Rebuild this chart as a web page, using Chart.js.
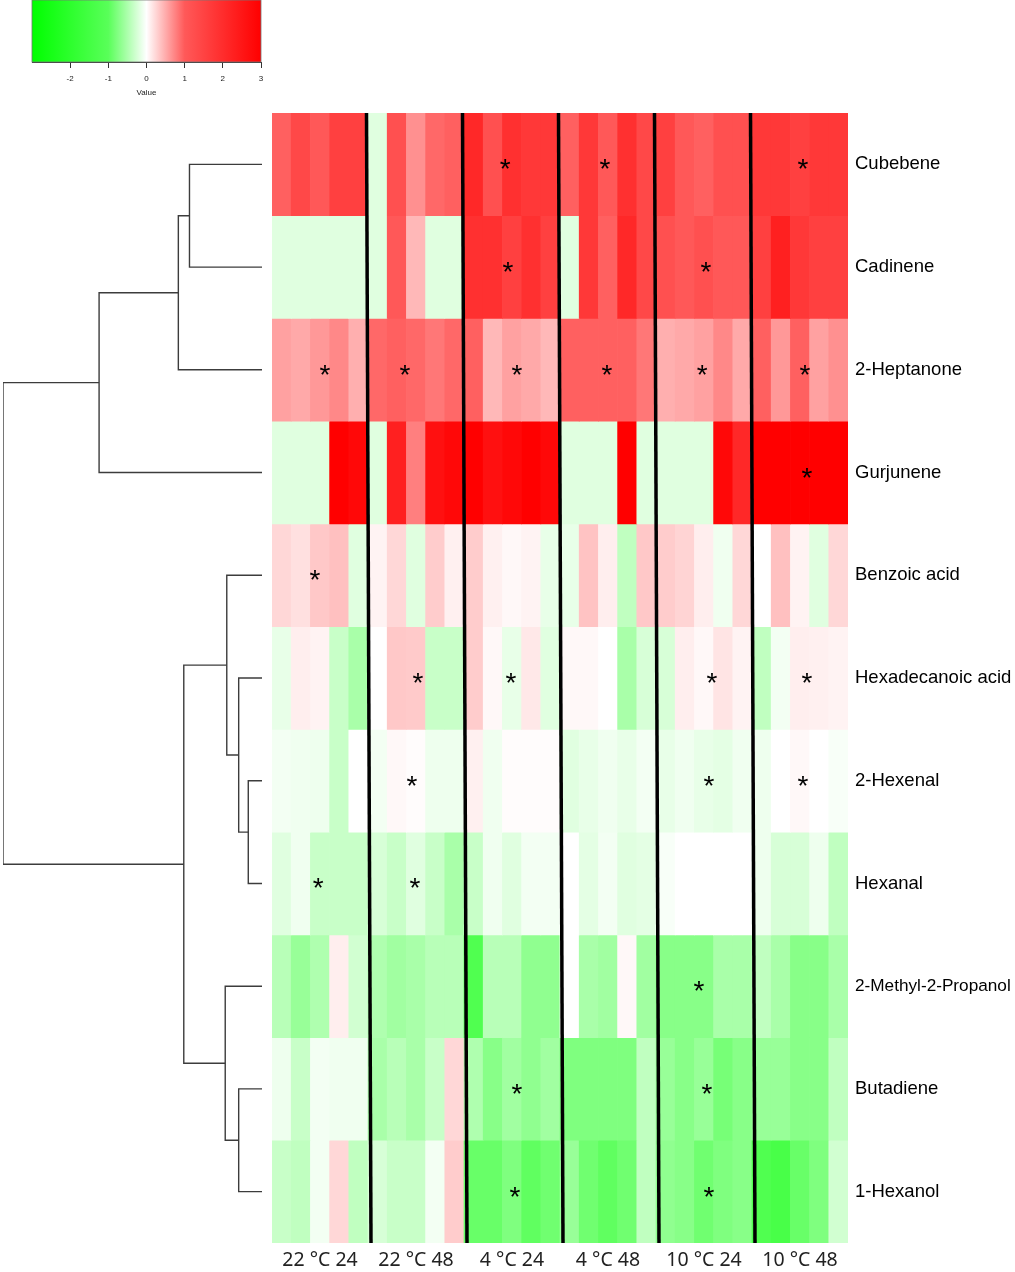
<!DOCTYPE html>
<html>
<head>
<meta charset="utf-8">
<script src="https://cdn.jsdelivr.net/npm/chart.js@4.4.1/dist/chart.umd.min.js"></script>
<style>
  body { margin: 0; background: #fff; }
  .box { position: absolute; left: 0; top: 0; }
</style>
</head>
<body>
<div class="box" style="width:1015px;height:1272px"><canvas id="heat"></canvas></div>
<div class="box" style="width:272px;height:1272px"><canvas id="tree"></canvas></div>
<div class="box" style="width:290px;height:100px"><canvas id="key"></canvas></div>
<script>
const rowNames = ['Cubebene', 'Cadinene', '2-Heptanone', 'Gurjunene', 'Benzoic acid', 'Hexadecanoic acid',
                  '2-Hexenal', 'Hexanal', '2-Methyl-2-Propanol', 'Butadiene', '1-Hexanol'];
const groupLabels = ['22 °C 24', '22 °C 48', '4 °C 24', '4 °C 48', '10 °C 24', '10 °C 48'];
const replicates = 5;

// one value per replicate column, 5 columns per group
const cubebene         = [0.96, 1.39, 1.03, 1.57, 1.57,  -0.19, 1.21, 0.67, 0.91, 0.96,  2.10, 1.21, 1.93, 1.74, 1.74,  0.96, 1.74, 1.03, 1.93, 1.39,  1.57, 1.03, 0.96, 1.21, 1.21,  1.74, 1.74, 1.57, 1.74, 1.74];
const cadinene         = [-0.19, -0.19, -0.19, -0.19, -0.19,  -0.19, 1.03, 0.43, -0.19, -0.19,  1.93, 1.93, 1.57, 1.93, 1.57,  -0.19, 1.74, 0.96, 2.10, 1.39,  1.21, 1.03, 1.21, 1.03, 1.03,  1.57, 2.29, 1.74, 1.57, 1.57];
const heptanone        = [0.57, 0.52, 0.62, 0.72, 0.48,  0.91, 0.96, 0.91, 0.82, 0.91,  0.96, 0.43, 0.57, 0.52, 0.43,  0.96, 0.96, 0.96, 0.96, 0.82,  0.48, 0.52, 0.57, 0.72, 0.52,  0.96, 0.62, 0.96, 0.57, 0.67];
const gurjunene        = [-0.19, -0.19, -0.19, 3.00, 2.82,  -0.19, 2.29, 0.77, 2.64, 2.82,  3.00, 2.64, 2.82, 3.00, 2.82,  -0.19, -0.19, -0.19, 3.00, -0.19,  -0.19, -0.19, -0.19, 2.82, 2.10,  3.00, 3.00, 3.00, 3.00, 3.00];
const benzoicAcid      = [0.24, 0.19, 0.33, 0.38, -0.19,  0.07, 0.24, -0.19, 0.31, 0.09,  0.31, 0.09, 0.04, 0.07, -0.14,  -0.14, 0.36, 0.10, -0.38, 0.33,  0.31, 0.26, 0.10, -0.09, 0.24,  0.00, 0.38, 0.07, -0.19, 0.24];
const hexadecanoicAcid = [-0.14, 0.10, 0.07, -0.33, -0.52,  0.00, 0.33, 0.32, -0.33, -0.33,  0.31, 0.04, -0.14, 0.14, -0.19,  0.04, 0.04, 0.00, -0.52, -0.24,  -0.24, 0.10, 0.04, 0.16, 0.07,  -0.38, -0.07, 0.10, 0.09, 0.07];
const hexenal          = [-0.07, -0.09, -0.10, -0.33, 0.00,  -0.07, 0.04, 0.02, -0.10, -0.10,  0.09, -0.09, 0.02, 0.02, 0.02,  -0.19, -0.14, -0.09, -0.14, -0.07,  -0.14, -0.09, -0.14, -0.16, -0.09,  -0.10, 0.00, 0.04, 0.00, -0.04];
const hexanal          = [-0.19, -0.09, -0.33, -0.33, -0.33,  -0.24, -0.33, -0.19, -0.33, -0.52,  -0.33, -0.09, -0.19, -0.07, -0.07,  0.00, -0.16, -0.07, -0.19, -0.16,  -0.04, 0.00, 0.00, 0.00, 0.00,  -0.10, -0.24, -0.24, -0.10, -0.38];
const methylPropanol   = [-0.43, -0.62, -0.48, 0.10, -0.28,  -0.48, -0.57, -0.52, -0.43, -0.43,  -1.21, -0.43, -0.43, -0.67, -0.67,  0.00, -0.52, -0.57, 0.04, -0.57,  -0.72, -0.72, -0.72, -0.52, -0.52,  -0.38, -0.52, -0.72, -0.72, -0.52];
const butadiene        = [-0.10, -0.33, -0.07, -0.09, -0.09,  -0.52, -0.43, -0.52, -0.33, 0.24,  -0.48, -0.72, -0.57, -0.67, -0.57,  -0.77, -0.77, -0.77, -0.77, -0.38,  -0.62, -0.72, -0.62, -0.82, -0.72,  -0.62, -0.62, -0.72, -0.72, -0.38];
const hexanol          = [-0.33, -0.38, -0.07, 0.24, -0.38,  -0.24, -0.33, -0.33, -0.07, 0.31,  -0.91, -0.91, -0.77, -0.96, -0.86,  -0.62, -0.86, -0.96, -0.86, -0.38,  -0.67, -0.72, -0.86, -0.77, -0.72,  -1.21, -1.39, -0.91, -0.77, -0.28];

const heatValues = [cubebene, cadinene, heptanone, gurjunene, benzoicAcid, hexadecanoicAcid,
                    hexenal, hexanal, methylPropanol, butadiene, hexanol];

// significance marks: row index and column position
const starRows = [0, 0, 0,  1, 1,  2, 2, 2, 2, 2, 2,  3,  4,  5, 5, 5, 5,  6, 6, 6,  7, 7,  8,  9, 9,  10, 10];
const starCols = [11.64, 16.84, 27.16,  11.79, 22.1,  2.26, 6.43, 12.26, 16.95, 21.9, 27.26,  27.36,  1.74,
                  7.1, 11.95, 22.42, 27.36,  6.79, 22.26, 27.16,  1.9, 6.95,  21.74,  12.26, 22.16,  12.16, 22.26];

// row dendrogram: node ids 0-10 are rows, merge k creates node 11+k
const mergeLeft   = [0, 11, 12, 6, 5, 4, 9, 8, 16, 13];
const mergeRight  = [1, 2, 3, 7, 14, 15, 10, 17, 18, 19];
const mergeHeight = [0.280, 0.323, 0.629, 0.053, 0.090, 0.136, 0.090, 0.142, 0.302, 1.0];

const keyTicks = [-2, -1, 0, 1, 2, 3];

function shade(v) {
    const a = Math.min(Math.abs(v), 3);
    const t = a <= 1 ? a * 0.65 : 0.65 + (a - 1) * 0.175;
    const c = Math.round(255 * (1 - t));
    return v >= 0 ? `rgb(255,${c},${c})` : `rgb(${c},255,${c})`;
}

const columns = groupLabels.flatMap(g => Array.from({length: replicates}, (_, r) => g + ' #' + (r + 1)));

let datasets = [];
for (let i = 0; i < heatValues.length; i++) {
    datasets.push({
        label: rowNames[i],
        data: heatValues[i].map(() => [i, i + 1]),
        backgroundColor: heatValues[i].map(shade),
        borderWidth: 0,
        grouped: false,
        categoryPercentage: 1,
        barPercentage: 1
    });
}

const overlay = {
    id: 'overlay',
    afterDatasetsDraw(chart) {
        const {ctx, chartArea, scales} = chart;
        ctx.save();
        ctx.strokeStyle = '#000';
        ctx.lineWidth = 3.5;
        for (let g = 1; g < groupLabels.length; g++) {
            const px = scales.x.getPixelForValue(g * replicates - 0.5);
            ctx.beginPath();
            ctx.moveTo(px - 1.5, chartArea.top);
            ctx.lineTo(px + 3, chartArea.bottom);
            ctx.stroke();
        }
        const size = 28;
        ctx.fillStyle = '#000';
        ctx.font = size + 'px "Liberation Sans"';
        ctx.textAlign = 'center';
        ctx.textBaseline = 'alphabetic';
        for (let i = 0; i < starRows.length; i++) {
            const px = scales.x.getPixelForValue(starCols[i]);
            const py = scales.y.getPixelForValue(starRows[i] + 0.5);
            ctx.fillText('*', px, py + size * 0.5);
        }
        ctx.restore();
    }
};

new Chart('heat', {
    type: 'bar',
    data: { labels: columns, datasets: datasets },
    options: {
        responsive: true,
        maintainAspectRatio: false,
        animation: false,
        events: [],
        layout: { padding: { left: 272, top: 113, right: 0, bottom: 0 } },
        plugins: { legend: { display: false }, tooltip: { enabled: false } },
        scales: {
            x: { type: 'category', display: false },
            x2: {
                type: 'category',
                labels: groupLabels,
                position: 'bottom',
                offset: true,
                grid: { display: false, drawTicks: false },
                border: { display: false },
                ticks: { color: '#222', padding: 6, font: { family: '"Noto Sans"', size: 19.5 } },
                afterFit: (s) => { s.height = 29; }
            },
            y: {
                type: 'linear',
                position: 'right',
                min: 0,
                max: rowNames.length,
                reverse: true,
                grid: { display: false, drawTicks: false },
                border: { display: false },
                afterBuildTicks: (s) => { s.ticks = rowNames.map((_, i) => ({ value: i + 0.5 })); },
                ticks: {
                    autoSkip: false,
                    padding: 7,
                    color: '#000',
                    callback: (v) => rowNames[Math.floor(v)],
                    font: (c) => ({ family: '"Liberation Sans"', size: c.index === 8 ? 17.2 : 18.5 })
                },
                afterFit: (s) => { s.width = 167; }
            }
        }
    },
    plugins: [overlay]
});

// dendrogram
let nodeY = rowNames.map((_, i) => i + 0.5);
let nodeH = rowNames.map(() => 0);
let treeSets = [];
for (let k = 0; k < mergeLeft.length; k++) {
    const a = mergeLeft[k], b = mergeRight[k], h = mergeHeight[k];
    treeSets.push({
        data: [
            { x: nodeH[a], y: nodeY[a] },
            { x: h, y: nodeY[a] },
            { x: h, y: nodeY[b] },
            { x: nodeH[b], y: nodeY[b] }
        ],
        showLine: true,
        borderColor: '#3c3c3c',
        borderWidth: 1.4,
        pointRadius: 0,
        tension: 0
    });
    nodeY.push((nodeY[a] + nodeY[b]) / 2);
    nodeH.push(h);
}

new Chart('tree', {
    type: 'scatter',
    data: { datasets: treeSets },
    options: {
        responsive: true,
        maintainAspectRatio: false,
        animation: false,
        events: [],
        layout: { padding: { left: 3, right: 10, top: 113, bottom: 29 } },
        plugins: { legend: { display: false }, tooltip: { enabled: false } },
        scales: {
            x: { type: 'linear', display: false, min: 0, max: 1, reverse: true },
            y: { type: 'linear', display: false, min: 0, max: rowNames.length, reverse: true }
        }
    }
});

// colour key
const keyFill = {
    id: 'keyFill',
    beforeDatasetsDraw(chart) {
        const {ctx, chartArea, scales} = chart;
        const sx = scales.x;
        const grad = ctx.createLinearGradient(chartArea.left, 0, chartArea.right, 0);
        [-3, -1, 0, 1, 3].forEach(v => {
            grad.addColorStop((sx.getPixelForValue(v) - chartArea.left) / chartArea.width, shade(v));
        });
        ctx.save();
        ctx.fillStyle = grad;
        ctx.fillRect(chartArea.left, chartArea.top, chartArea.width, chartArea.height);
        ctx.strokeStyle = '#777';
        ctx.lineWidth = 0.8;
        ctx.strokeRect(chartArea.left, chartArea.top, chartArea.width, chartArea.height);
        ctx.restore();
    }
};

new Chart('key', {
    type: 'scatter',
    data: { datasets: [{ data: [] }] },
    options: {
        responsive: true,
        maintainAspectRatio: false,
        animation: false,
        events: [],
        layout: { padding: { left: 32, right: 29, top: 0, bottom: 0 } },
        plugins: { legend: { display: false }, tooltip: { enabled: false } },
        scales: {
            x: {
                type: 'linear',
                min: -3,
                max: 3,
                afterBuildTicks: (s) => { s.ticks = keyTicks.map(v => ({ value: v })); },
                grid: { drawOnChartArea: false, tickLength: 6, color: '#333' },
                border: { display: true, color: '#333' },
                ticks: { color: '#222', padding: 6, font: { family: '"Liberation Sans"', size: 8 } },
                title: { display: true, text: 'Value', color: '#222', padding: 2, font: { family: '"Liberation Sans"', size: 8 } },
                afterFit: (s) => { s.height = 38; }
            },
            y: { display: false, min: 0, max: 1 }
        }
    },
    plugins: [keyFill]
});
</script>
</body>
</html>
